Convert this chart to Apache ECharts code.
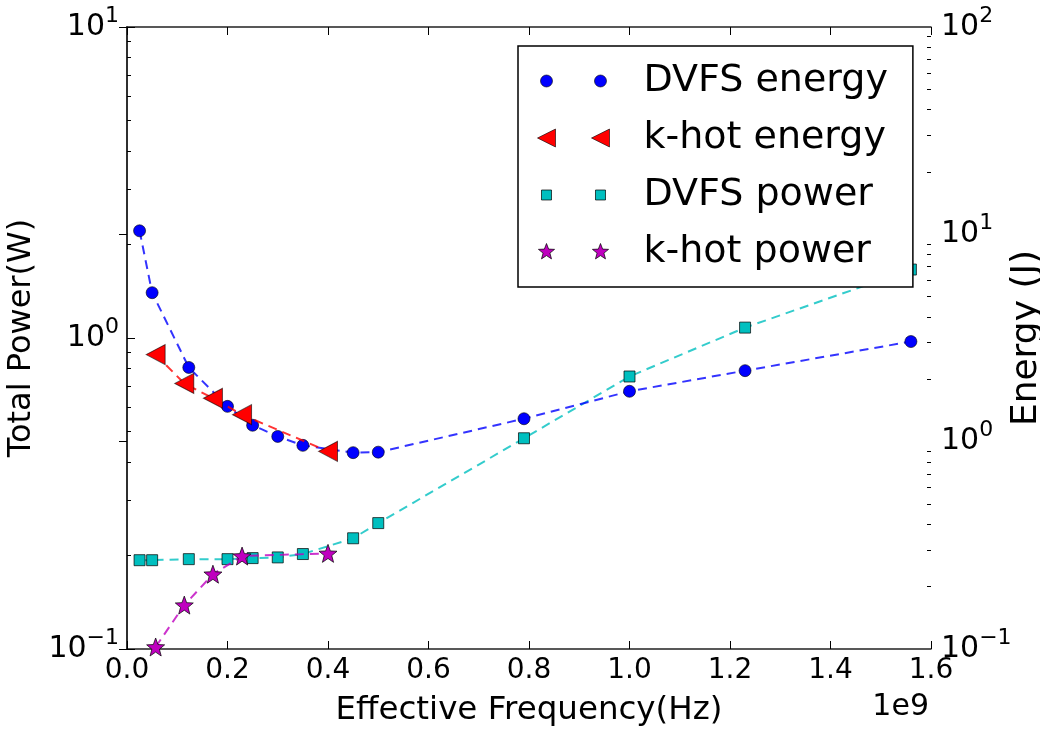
<!DOCTYPE html>
<html>
<head>
<meta charset="utf-8">
<script src="https://cdn.jsdelivr.net/npm/echarts@6/dist/echarts.min.js"></script>
<style>
html,body{margin:0;padding:0;background:#fff;}
#c{width:1040px;height:732px;}
</style>
</head>
<body>
<div id="c"></div>
<script>
// ---- data (frequency in units of 1e9 Hz) ----
const dvfsFreq   = [0.025, 0.05, 0.123, 0.2, 0.25, 0.3, 0.35, 0.45, 0.5, 0.79, 1.0, 1.23, 1.56];
const dvfsEnergy = [10.4, 5.23, 2.28, 1.48, 1.20, 1.06, 0.96, 0.885, 0.89, 1.29, 1.75, 2.2, 3.04];
const dvfsPower  = [0.193, 0.193, 0.1945, 0.1945, 0.196, 0.197, 0.202, 0.227, 0.254, 0.476, 0.752, 1.08, 1.66];
const khotFreq   = [0.057, 0.114, 0.171, 0.229, 0.4];
const khotEnergy = [2.63, 1.91, 1.62, 1.35, 0.898];
const khotPower  = [0.1015, 0.1384, 0.174, 0.199, 0.203];
const seriesNames = ['DVFS energy', 'k-hot energy', 'DVFS power', 'k-hot power'];
const xTickLabelsNote = '1e9';
const powerMinor  = [0.2,0.3,0.4,0.5,0.6,0.7,0.8,0.9,2,3,4,5,6,7,8,9];
const energyMinor = [0.2,0.3,0.4,0.5,0.6,0.7,0.8,0.9,2,3,4,5,6,7,8,9,20,30,40,50,60,70,80,90];

const zip = (xs, ys) => xs.map((x, i) => [x, ys[i]]);

function starPath(cx, cy, R, r) {
  let d = '';
  for (let i = 0; i < 10; i++) {
    const a = (-90 + i * 36) * Math.PI / 180;
    const rr = i % 2 ? r : R;
    d += (i ? 'L' : 'M') + (cx + rr * Math.cos(a)).toFixed(2) + ',' + (cy + rr * Math.sin(a)).toFixed(2);
  }
  return d + 'Z';
}
const corners = 'M0,0L0.01,0M72,18L72.01,18';
const starSym = 'path://' + starPath(10, 10, 10, 4.2);
const triSym = 'path://M0,9L18,0L18,18Z';
const legCircle = 'path://' + corners + 'M3,9A6,6 0 1,0 15,9A6,6 0 1,0 3,9ZM57,9A6,6 0 1,0 69,9A6,6 0 1,0 57,9Z';
const legTri = 'path://M0,9L18,0L18,18ZM54,9L72,0L72,18Z';
const legSquare = 'path://' + corners + 'M4,4h10v10h-10ZM58,4h10v10h-10Z';
const legStar = 'path://' + corners + starPath(9, 9, 8.5, 3.6) + starPath(63, 9, 8.5, 3.6);

const FONT = 'DejaVu Sans';
function logLabel(v) {
  const e = Math.round(Math.log10(v));
  return '{b|10}{s|' + (e < 0 ? '\u2212' + (-e) : e) + '}';
}
const richLab = {
  b: {fontSize: 30, fontFamily: FONT, color: '#000', lineHeight: 44, verticalAlign: 'middle'},
  s: {fontSize: 22, fontFamily: FONT, color: '#000', lineHeight: 22, verticalAlign: 'top'}
};
const spine = {show: true, lineStyle: {color: '#222', width: 1.5}};

const chart = echarts.init(document.getElementById('c'));
chart.setOption({
  animation: false,
  backgroundColor: '#fff',
  grid: {left: 127, right: 109, top: 27, bottom: 83, containLabel: false, outerBoundsMode: 'none'},
  xAxis: [{
    type: 'value', min: 0, max: 1.6, interval: 0.2, position: 'bottom',
    axisLine: spine,
    axisTick: {show: true, inside: true, length: 8, lineStyle: {color: '#000', width: 1}},
    axisLabel: {formatter: v => v.toFixed(1), fontSize: 28, fontFamily: FONT, color: '#000', margin: 8},
    splitLine: {show: false},
    name: 'Effective Frequency(Hz)', nameLocation: 'middle', nameGap: 45,
    nameTextStyle: {fontSize: 32.5, fontFamily: FONT, color: '#000'}
  }, {
    type: 'value', min: 0, max: 1.6, interval: 0.2, position: 'top',
    axisLine: spine,
    axisTick: {show: true, inside: true, length: 8, lineStyle: {color: '#000', width: 1}},
    axisLabel: {show: false}, splitLine: {show: false}
  }],
  yAxis: [{
    type: 'log', logBase: 10, min: 0.1, max: 10, position: 'left',
    axisLine: spine,
    axisTick: {show: true, inside: true, length: 8, lineStyle: {color: '#000', width: 1}},
    axisLabel: {formatter: logLabel, rich: richLab, margin: 8},
    splitLine: {show: false},
    name: 'Total Power(W)', nameLocation: 'middle', nameGap: 85, nameRotate: 90,
    nameTextStyle: {fontSize: 32, fontFamily: FONT, color: '#000'}
  }, {
    type: 'log', logBase: 10, min: 0.1, max: 100, position: 'right',
    axisLine: spine,
    axisTick: {show: true, inside: true, length: 8, lineStyle: {color: '#000', width: 1}},
    axisLabel: {formatter: logLabel, rich: richLab, margin: 10},
    splitLine: {show: false},
    name: 'Energy (J)', nameLocation: 'middle', nameGap: 78, nameRotate: 90, nameMoveOverlap: false,
    nameTextStyle: {fontSize: 36, fontFamily: FONT, color: '#000'}
  }, {
    type: 'log', logBase: 10, min: 0.1, max: 10, position: 'left',
    axisLine: {show: false},
    axisTick: {show: true, inside: true, length: 4, customValues: powerMinor, lineStyle: {color: '#000', width: 1}},
    axisLabel: {show: false}, splitLine: {show: false}
  }, {
    type: 'log', logBase: 10, min: 0.1, max: 100, position: 'right',
    axisLine: {show: false},
    axisTick: {show: true, inside: true, length: 4, customValues: energyMinor, lineStyle: {color: '#000', width: 1}},
    axisLabel: {show: false}, splitLine: {show: false}
  }],
  legend: {
    orient: 'vertical', left: 518, top: 46,
    padding: [13, 25, 13, 19],
    itemGap: 13, itemWidth: 72, itemHeight: 18,
    borderColor: '#000', borderWidth: 1.5, borderRadius: 0,
    backgroundColor: '#fff',
    selectedMode: false,
    textStyle: {fontSize: 38, fontFamily: FONT, color: '#000', lineHeight: 44, padding: [0, 0, 0, 29]},
    data: [
      {name: seriesNames[0], icon: legCircle, itemStyle: {color: '#0000ff', borderColor: 'rgba(0,0,0,0.6)', borderWidth: 1}},
      {name: seriesNames[1], icon: legTri, itemStyle: {color: '#ff0000', borderColor: 'rgba(0,0,0,0.6)', borderWidth: 1}},
      {name: seriesNames[2], icon: legSquare, itemStyle: {color: '#00bfbf', borderColor: 'rgba(0,0,0,0.7)', borderWidth: 1}},
      {name: seriesNames[3], icon: legStar, itemStyle: {color: '#bf00bf', borderColor: 'rgba(0,0,0,0.7)', borderWidth: 1}}
    ]
  },
  graphic: [{
    type: 'text', right: 1040 - 929, top: 692,
    style: {text: xTickLabelsNote, fontSize: 30, fontFamily: FONT, fill: '#000'}
  }],
  series: [{
    name: seriesNames[2], type: 'line', xAxisIndex: 0, yAxisIndex: 0,
    data: zip(dvfsFreq, dvfsPower),
    symbol: 'rect', symbolSize: 11,
    itemStyle: {color: '#00bfbf', borderColor: 'rgba(0,0,0,0.7)', borderWidth: 1},
    lineStyle: {color: 'rgba(0,191,191,0.8)', width: 2, type: [9, 6]}, z: 2
  }, {
    name: seriesNames[3], type: 'line', xAxisIndex: 0, yAxisIndex: 0,
    data: zip(khotFreq, khotPower),
    symbol: starSym, symbolSize: 18,
    itemStyle: {color: '#bf00bf', borderColor: 'rgba(0,0,0,0.7)', borderWidth: 1},
    lineStyle: {color: 'rgba(191,0,191,0.8)', width: 2, type: [9, 6]}, z: 3
  }, {
    name: seriesNames[0], type: 'line', xAxisIndex: 0, yAxisIndex: 1,
    data: zip(dvfsFreq, dvfsEnergy),
    symbol: 'circle', symbolSize: 12,
    itemStyle: {color: '#0000ff', borderColor: 'rgba(0,0,0,0.6)', borderWidth: 1},
    lineStyle: {color: 'rgba(0,0,255,0.8)', width: 2, type: [9, 6]}, z: 4
  }, {
    name: seriesNames[1], type: 'line', xAxisIndex: 0, yAxisIndex: 1,
    data: zip(khotFreq, khotEnergy),
    symbol: triSym, symbolSize: [19, 20],
    itemStyle: {color: '#ff0000', borderColor: 'rgba(0,0,0,0.6)', borderWidth: 1},
    lineStyle: {color: 'rgba(255,0,0,0.8)', width: 2, type: [9, 6]}, z: 5
  }]
});
</script>
</body>
</html>
